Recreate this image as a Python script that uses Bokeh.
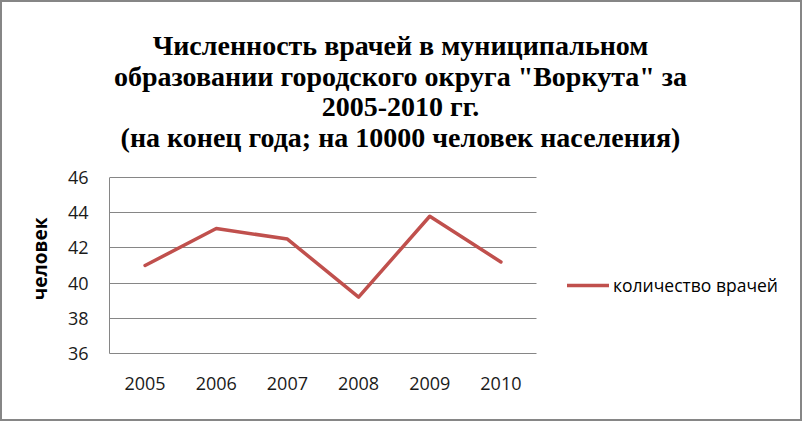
from bokeh.plotting import figure
from bokeh.models import Range1d, FixedTicker, Legend, LegendItem, Label, BoxAnnotation, Title
from bokeh.embed import file_html
from bokeh.resources import INLINE

years = [2005, 2006, 2007, 2008, 2009, 2010]
doctors = [41.0, 43.1, 42.5, 39.2, 43.8, 41.2]
y_ticks = [36, 38, 40, 42, 44, 46]
title_lines = [
    "Численность врачей в муниципальном",
    "образовании городского округа \"Воркута\" за",
    "2005-2010 гг.",
    "(на конец года; на 10000 человек населения)",
]
series_name = "количество врачей"
y_label = "человек"

GRID = "#868686"
RED = "#C0504D"

# layout (canvas pixels; canvas 802 x 421 starts 2px inside the border)
CANVAS_W, CANVAS_H = 802, 421
LEFT, BOTTOM = 107, 70
PLOT_W, PLOT_H = 427, 176          # size of the actual plotting area
FRAME_W = CANVAS_W - LEFT
FRAME_H = CANVAS_H - BOTTOM

x0, x1 = years[0] - 0.5, years[-1] + 0.5
y0, y1 = y_ticks[0], y_ticks[-1]
x_end = x0 + (x1 - x0) * FRAME_W / PLOT_W
y_end = y0 + (y1 - y0) * FRAME_H / PLOT_H

YL_SIZE = 19
yl_w = 3.65 * YL_SIZE              # approx. rendered length of the y-axis title

p = figure(width=802, height=421,
           x_range=Range1d(x0, x_end), y_range=Range1d(y0, y_end),
           output_backend="svg", toolbar_location=None,
           min_border_left=LEFT, min_border_right=0,
           min_border_top=0, min_border_bottom=BOTTOM)
p.styles = {"border": "2px solid #868686"}
p.outline_line_color = None

for ax in (p.xaxis[0], p.yaxis[0]):
    ax.major_tick_line_color = None
    ax.minor_tick_line_color = None
    ax.major_tick_out = 0
    ax.major_tick_in = 0
    ax.axis_line_color = GRID
    ax.major_label_text_font = "Open Sans"
    ax.major_label_text_font_size = "18px"
    ax.major_label_text_color = "#1a1a1a"

p.xaxis.ticker = FixedTicker(ticks=years)
p.xaxis.bounds = (x0, x1)
p.xaxis.major_label_standoff = 23

p.yaxis.ticker = FixedTicker(ticks=y_ticks)
p.yaxis.bounds = (y0, y1)
p.yaxis.major_label_standoff = 21

# y axis title, centred on the plotting area (not on the whole frame)
p.add_layout(Title(text=y_label, align="left", offset=PLOT_H / 2 - yl_w / 2,
                   standoff=24, text_font="Open Sans", text_font_size=f"{YL_SIZE}px",
                   text_font_style="bold", text_color="#000000"), "left")

p.xgrid.grid_line_color = None
yg = p.ygrid[0]
yg.ticker = FixedTicker(ticks=y_ticks)
yg.bounds = (y0, y1)
yg.grid_line_color = GRID
yg.grid_line_width = 1
has_cross = "cross_bounds" in yg.properties()
if has_cross:
    yg.cross_bounds = (x0, x1)

r = p.line(x=years, y=doctors, line_color=RED, line_width=3.5,
           line_cap="round", line_join="round")

if not has_cross:
    p.add_layout(BoxAnnotation(left=x1, right=x_end, bottom=y0 - 0.2, top=y1 + 0.2,
                               fill_color="white", fill_alpha=1.0, line_color=None))

# chart title (screen units relative to the frame's lower-left corner)
title_base = [308, 277, 247, 216]
for txt, ty in zip(title_lines, title_base):
    p.add_layout(Label(x=291, y=ty, x_units="screen", y_units="screen",
                       text=txt, text_align="center", text_baseline="alphabetic",
                       text_font="Liberation Serif", text_font_size="28px",
                       text_font_style="bold", text_color="#000000"))

legend = Legend(items=[LegendItem(label=series_name, renderers=[r])],
                location=(458, 56), border_line_color=None,
                background_fill_alpha=0, padding=0, margin=0,
                glyph_width=42, glyph_height=20, label_height=20,
                label_standoff=4, label_text_font="Open Sans",
                label_text_font_size="17.5px", label_text_color="#000000")
p.add_layout(legend)

open("out.html", "w").write(file_html(p, INLINE))
